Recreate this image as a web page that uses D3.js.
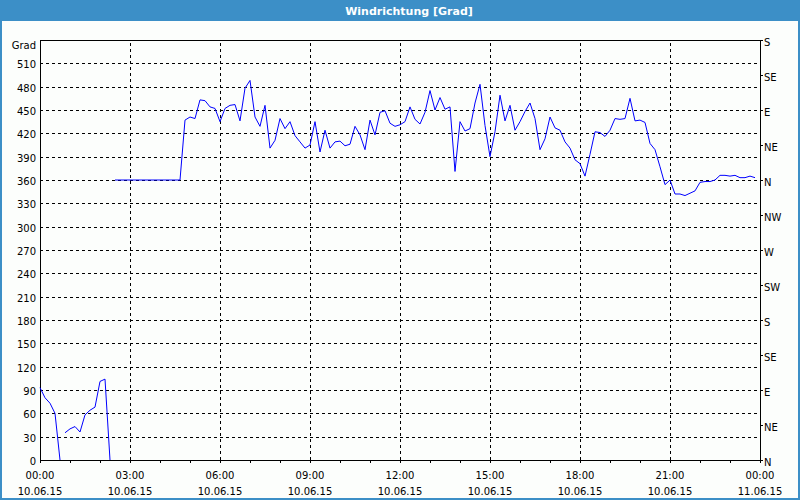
<!DOCTYPE html>
<html>
<head>
<meta charset="utf-8">
<script src="https://cdn.jsdelivr.net/npm/d3@7"></script>
<style>
body { margin: 0; background: #fff; }
text { font-family: "DejaVu Sans", sans-serif; font-size: 10px; fill: #000; }
.grid line { stroke: #000; stroke-dasharray: 3,3; shape-rendering: crispEdges; }
.grid path { display: none; }
</style>
</head>
<body>
<div id="chart"></div>
<script>
var title = "Windrichtung [Grad]";
var yUnit = "Grad";
var day = "2015-06-10";
var yTicks = [0, 30, 60, 90, 120, 150, 180, 210, 240, 270, 300, 330, 360, 390, 420, 450, 480, 510];
var compassTicks = [0, 45, 90, 135, 180, 225, 270, 315, 360, 405, 450, 495, 540];
var compassLabels = ["N", "NE", "E", "SE", "S", "SW", "W", "NW", "N", "NE", "E", "SE", "S"];

// measurements every 10 minutes, line broken where the direction wraps
var segStarts = ["00:00", "00:50", "02:30"];
var seg1 = [93, 80, 73, 60, 0];
var seg2 = [35, 40, 43, 36, 58, 64, 68, 101, 104, 0];
var seg3 = [360, 360, 360, 360, 360, 360, 360, 360, 360, 360, 360, 360, 360, 360,
  437, 441, 439, 463, 462, 454, 452, 435, 452, 456, 457, 436, 478, 488, 441, 429,
  456, 401, 411, 439, 426, 435, 417, 409, 401, 405, 435, 396, 424, 401, 409, 410,
  404, 406, 429, 418, 399, 437, 418, 447, 449, 433, 429, 431, 435, 454, 438, 432,
  447, 475, 450, 466, 451, 454, 371, 435, 423, 426, 459, 483, 430, 390, 422, 469,
  436, 456, 424, 435, 448, 459, 439, 399, 413, 441, 427, 424, 409, 401, 386, 381,
  365, 393, 422, 421, 416, 424, 439, 438, 439, 465, 436, 437, 434, 407, 399, 377,
  354, 360, 342, 342, 340, 343, 346, 357, 358, 358, 360, 366, 366, 365, 366, 363,
  363, 365, 363];
var segments = [seg1, seg2, seg3];

var width = 800, height = 500;
var plot = {left: 40, right: 760, top: 40, bottom: 460};
var barColor = "#3c8fc7";

var svg = d3.select("#chart").append("svg")
    .attr("width", width)
    .attr("height", height);

// window frame + title bar
svg.append("rect")
    .attr("x", 0).attr("y", 0)
    .attr("width", width).attr("height", height)
    .style("fill", "#fcfefc");
svg.append("rect")
    .attr("x", 1).attr("y", 1)
    .attr("width", width - 2).attr("height", height - 2)
    .style("fill", "none")
    .style("stroke", barColor)
    .style("stroke-width", 2);
svg.append("rect")
    .attr("x", 0).attr("y", 0)
    .attr("width", width).attr("height", 21)
    .style("fill", barColor);
svg.append("text")
    .attr("x", 409).attr("y", 15)
    .attr("text-anchor", "middle")
    .style("font-weight", "bold")
    .style("font-size", "11px")
    .style("fill", "#fff")
    .text(title);

var parse = d3.timeParse("%Y-%m-%d %H:%M");
var t0 = parse(day + " 00:00");
var t1 = d3.timeDay.offset(t0, 1);

var x = d3.scaleTime().domain([t0, t1]).range([plot.left, plot.right]);
var y = d3.scaleLinear().domain([0, 540]).range([plot.bottom, plot.top]);

// grid
svg.append("g")
    .attr("class", "grid")
    .attr("transform", "translate(" + plot.left + ",0)")
    .call(d3.axisLeft(y).tickValues(yTicks.slice(1)).tickSize(-(plot.right - plot.left)).tickFormat(""));
svg.append("g")
    .attr("class", "grid")
    .attr("transform", "translate(0," + plot.bottom + ")")
    .call(d3.axisBottom(x).ticks(d3.timeHour.every(3)).tickSize(-(plot.bottom - plot.top)).tickFormat(""))
    .selectAll(".tick")
    .filter(function(d) { return +d === +t0 || +d === +t1; })
    .remove();

// frame
svg.append("rect")
    .attr("x", plot.left + 0.5).attr("y", plot.top + 0.5)
    .attr("width", plot.right - plot.left).attr("height", plot.bottom - plot.top)
    .style("fill", "none")
    .style("stroke", "#000");

// left axis labels
var left = svg.append("g")
    .attr("transform", "translate(" + plot.left + ",0)")
    .call(d3.axisLeft(y).tickValues(yTicks).tickSize(0).tickPadding(4));
left.select(".domain").remove();
left.selectAll("text").style("font-family", "DejaVu Sans").style("font-size", "10px")
    .attr("dy", "0.45em");

svg.append("text")
    .attr("x", 36).attr("y", 49)
    .attr("text-anchor", "end")
    .text(yUnit);

// right compass axis
var right = svg.append("g")
    .attr("transform", "translate(" + plot.right + ",0)")
    .call(d3.axisRight(y).tickValues(compassTicks).tickSize(3).tickPadding(1)
        .tickFormat(function(d, i) { return compassLabels[i]; }));
right.select(".domain").remove();
right.selectAll("text").style("font-family", "DejaVu Sans").style("font-size", "10px")
    .attr("dy", "0.5em");

// bottom axis, hourly ticks, labels every 3 hours
var bottom = svg.append("g")
    .attr("transform", "translate(0," + plot.bottom + ")")
    .call(d3.axisBottom(x).ticks(d3.timeHour.every(1)).tickSize(3).tickFormat(""));
bottom.select(".domain").remove();

var fmtTime = d3.timeFormat("%H:%M"), fmtDate = d3.timeFormat("%d.%m.%y");
var labelTimes = x.ticks(d3.timeHour.every(3));
var lab = svg.append("g").selectAll("text")
    .data(labelTimes)
    .join("text")
    .attr("x", function(d) { return x(d); })
    .attr("text-anchor", "middle");
lab.append("tspan").attr("x", function(d) { return x(d); }).attr("y", 479).text(fmtTime);
lab.append("tspan").attr("x", function(d) { return x(d); }).attr("y", 495).text(fmtDate);

// data line
var line = d3.line()
    .x(function(d) { return x(d.t); })
    .y(function(d) { return y(d.v); });

segments.forEach(function(vals, s) {
    var start = parse(day + " " + segStarts[s]);
    var pts = vals.map(function(v, i) { return {t: d3.timeMinute.offset(start, i * 10), v: v}; });
    svg.append("path")
        .datum(pts)
        .attr("d", line)
        .style("fill", "none")
        .style("stroke", "#0000ff")
        .style("stroke-width", 1);
});
</script>
</body>
</html>
